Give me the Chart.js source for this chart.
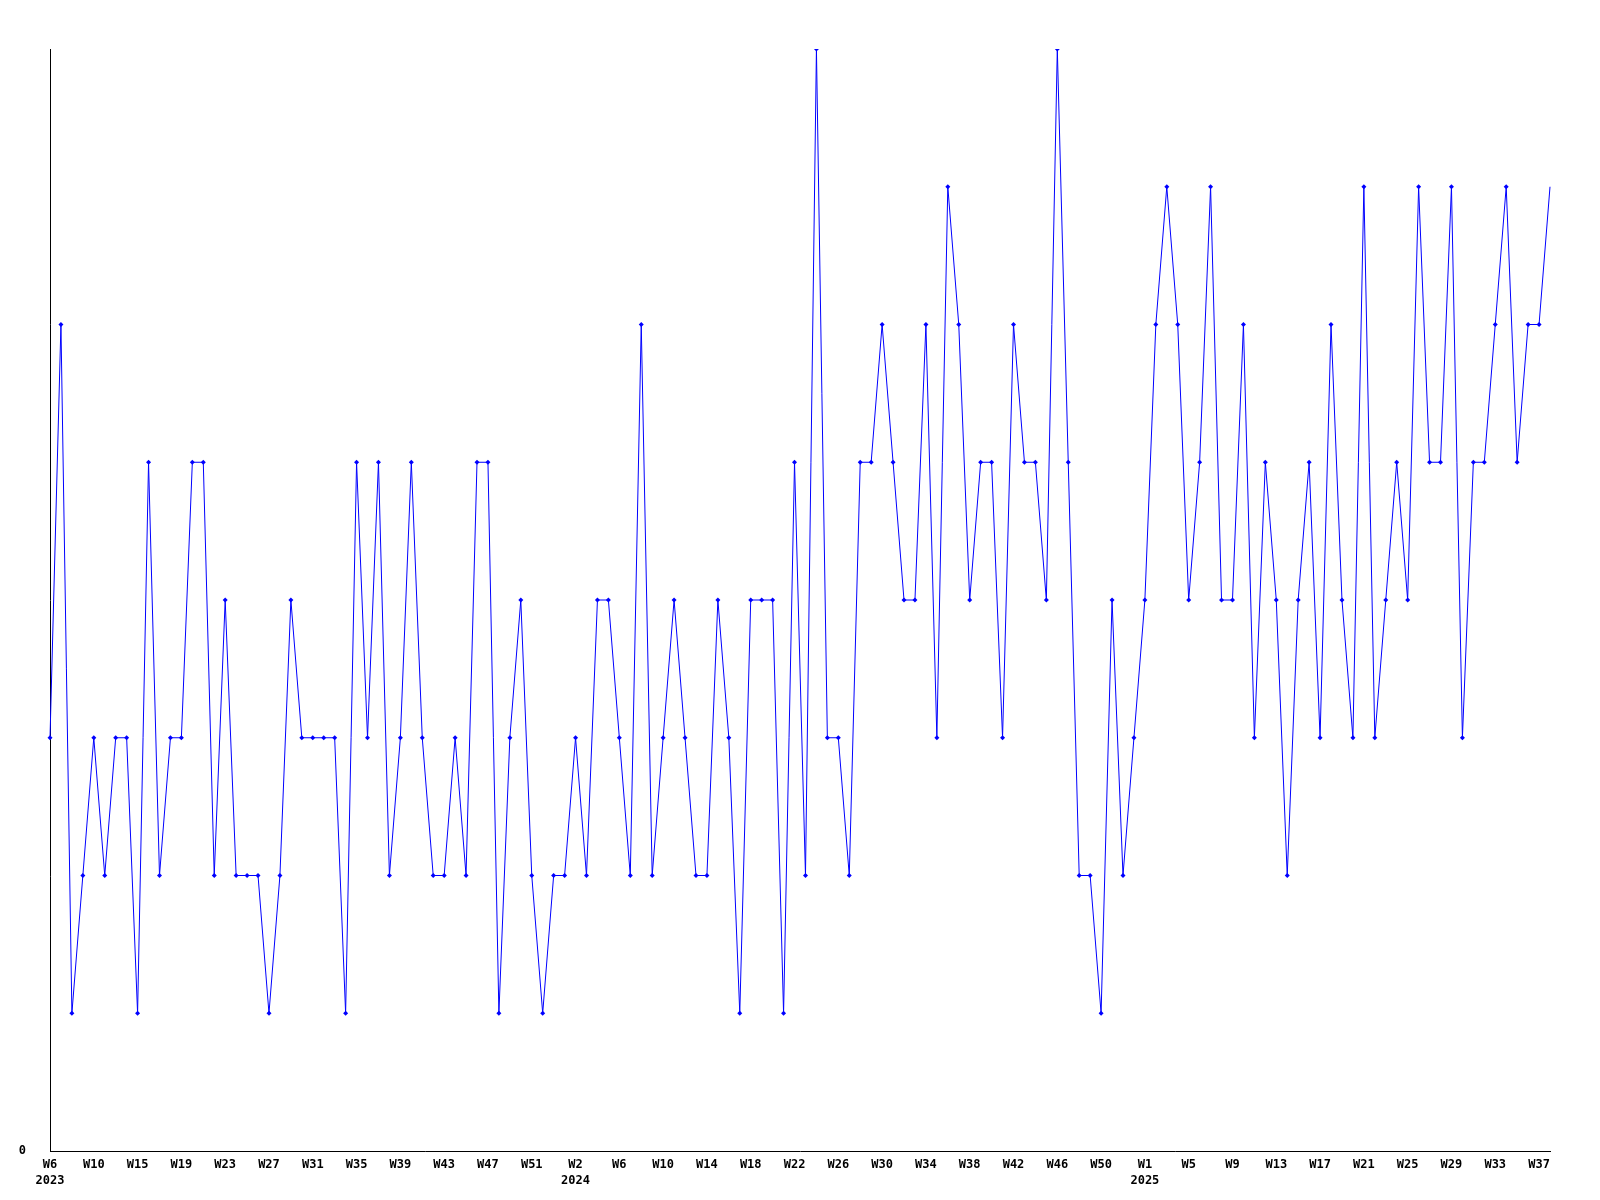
<!DOCTYPE html>
<html>
<head>
<meta charset="utf-8">
<script src="https://cdn.jsdelivr.net/npm/chart.js@4.4.1/dist/chart.umd.min.js"></script>
<style>
  html, body { margin: 0; padding: 0; background: #ffffff; }
  #wrap { width: 1600px; height: 1200px; }
</style>
</head>
<body>
<div id="wrap"><canvas id="c" width="1600" height="1200"></canvas></div>
<script>
// Tick labels shown on the x axis (one every 4 weeks)
const weekTicks = ['W6','W10','W15','W19','W23','W27','W31','W35','W39','W43','W47','W51',
  'W2','W6','W10','W14','W18','W22','W26','W30','W34','W38','W42','W46','W50',
  'W1','W5','W9','W13','W17','W21','W25','W29','W33','W37'];
// Year shown under the first tick of each year
const yearLabels = ['2023','2024','2025'];
const yearTickIndex = [0, 12, 25];

// Weekly values
const values = [
  3,6,1,2,3,2,3,3,1,5,2,3,3,5,5,2,4,2,
  2,2,1,2,4,3,3,3,3,1,5,3,5,2,3,5,3,
  2,2,3,2,5,5,1,3,4,2,1,2,2,3,2,4,4,3,
  2,6,2,3,4,3,2,2,4,3,1,4,4,4,1,5,2,
  8,3,3,2,5,5,6,5,4,4,6,3,7,6,4,5,5,
  3,6,5,5,4,8,5,2,2,1,4,2,3,4,6,7,6,4,
  5,7,4,4,6,3,5,4,2,4,5,3,6,4,3,7,3,
  4,5,4,7,5,5,7,3,5,5,6,7,5,6,6,7
];

// Category labels: each tick week followed by the next weeks
const categories = [];
for (let i = 0; i < values.length; i++) {
  const t = Math.floor(i / 4);
  const base = parseInt(weekTicks[Math.min(t, weekTicks.length - 1)].slice(1), 10);
  const off = t < weekTicks.length ? i % 4 : i - (weekTicks.length - 1) * 4;
  categories.push('W' + (base + off));
}

const font = { family: "'DejaVu Sans Mono', monospace", size: 12, weight: 'bold', lineHeight: 1.35 };
const lastIdx = values.length - 1;

new Chart(document.getElementById('c'), {
  type: 'line',
  data: {
    labels: categories,
    datasets: [{
      data: values,
      borderColor: '#0000ff',
      backgroundColor: '#0000ff',
      borderWidth: 1,
      tension: 0,
      fill: false,
      pointStyle: 'rectRot',
      pointRadius: (ctx) => ctx.dataIndex === lastIdx ? 0 : 2.5,
      pointBorderWidth: 0,
      pointBackgroundColor: '#0000ff'
    }]
  },
  options: {
    responsive: false,
    animation: false,
    events: [],
    layout: { padding: { top: 49, right: 50, left: 0, bottom: 0 } },
    plugins: { legend: { display: false }, tooltip: { enabled: false } },
    scales: {
      x: {
        type: 'category',
        offset: false,
        grid: { display: false, drawTicks: false },
        border: { display: true, color: '#000000', width: 1 },
        ticks: {
          autoSkip: false,
          maxRotation: 0,
          minRotation: 0,
          padding: 6,
          color: '#000000',
          font: font,
          callback: function (val, idx) {
            if (idx % 4 !== 0) return null;
            const t = idx / 4;
            const label = weekTicks[t];
            const y = yearTickIndex.indexOf(t);
            return y >= 0 ? [label, yearLabels[y]] : label;
          }
        },
        afterFit: (scale) => { scale.height = 49; }
      },
      y: {
        min: 0,
        max: 8,
        grid: { display: false, drawTicks: false },
        border: { display: true, color: '#000000', width: 1 },
        ticks: {
          stepSize: 1,
          padding: 24,
          color: '#000000',
          font: font,
          callback: (v) => v === 0 ? '0' : null
        },
        afterFit: (scale) => { scale.width = 50; }
      }
    }
  }
});
</script>
</body>
</html>
